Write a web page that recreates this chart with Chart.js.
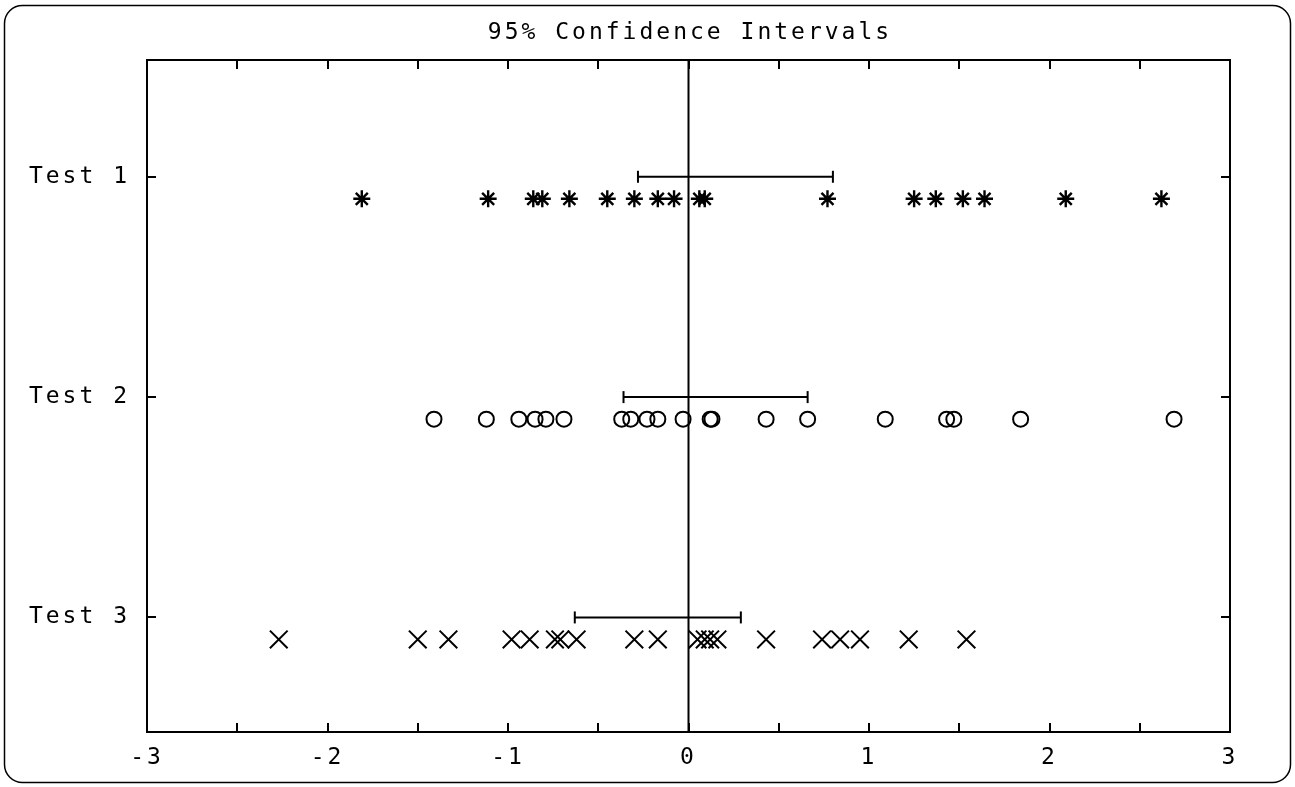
<!DOCTYPE html>
<html>
<head>
<meta charset="utf-8">
<script src="https://cdn.jsdelivr.net/npm/chart.js@4.4.1/dist/chart.umd.min.js"></script>
<style>
  html, body { margin: 0; padding: 0; background: #fff; }
  #wrap { width: 1295px; height: 787px; }
</style>
</head>
<body>
<div id="wrap"><canvas id="ci"></canvas></div>
<script>
// categories and rows
const categories = ['Test 1', 'Test 2', 'Test 3'];
const ciRow = [1, 2, 3];
const pointRow = [1.1, 2.1, 3.1];
const titleText = '95% Confidence Intervals';

// samples
const test1 = [-1.81, -1.11, -0.86, -0.81, -0.66, -0.45, -0.30, -0.17, -0.08, 0.06, 0.09,
    0.77, 1.25, 1.37, 1.52, 1.64, 2.09, 2.62];
const test2 = [-1.41, -1.12, -0.94, -0.85, -0.79, -0.69, -0.37, -0.32, -0.23, -0.17, -0.03,
    0.12, 0.13, 0.43, 0.66, 1.09, 1.43, 1.47, 1.84, 2.69];
const test3 = [-2.27, -1.50, -1.33, -0.98, -0.88, -0.74, -0.71, -0.62, -0.30, -0.17,
    0.05, 0.09, 0.12, 0.16, 0.43, 0.74, 0.84, 0.95, 1.22, 1.54];

// 95% intervals
const ciLow = [-0.28, -0.36, -0.63];
const ciHigh = [0.80, 0.66, 0.29];

// axis ranges
const xMin = -3, xMax = 3, xStep = 0.5;
const yMin = 0.47, yMax = 3.52;

const samples = [test1, test2, test3];
const markers = [
    { style: 'star', radius: 8.5, width: 2.4 },
    { style: 'circle', radius: 7.5, width: 2 },
    { style: 'crossRot', radius: 12.5, width: 2 }
];

const datasets = [];

// zero line
datasets.push({
    data: [{ x: 0, y: yMin }, { x: 0, y: yMax }],
    showLine: true, borderColor: '#000', borderWidth: 2, pointRadius: 0
});

samples.forEach((vals, i) => {
    datasets.push({
        data: vals.map(v => ({ x: v, y: pointRow[i] })),
        showLine: false,
        pointStyle: markers[i].style,
        pointRadius: markers[i].radius,
        pointBorderColor: '#000',
        pointBackgroundColor: 'rgba(0,0,0,0)',
        pointBorderWidth: markers[i].width
    });
    datasets.push({
        data: [{ x: ciLow[i], y: ciRow[i] }, { x: ciHigh[i], y: ciRow[i] }],
        showLine: true,
        borderColor: '#000',
        borderWidth: 2,
        pointStyle: 'line',
        pointRotation: 90,
        pointRadius: 6,
        pointBorderColor: '#000',
        pointBorderWidth: 2
    });
});

const fontFamily = '"DejaVu Sans Mono", monospace';
const monoFont = { family: fontFamily, size: 23 };

// letter spacing (lost on every canvas resize, so set again)
const spacing = {
    id: 'spacing',
    beforeUpdate(chart) { chart.ctx.letterSpacing = '3px'; },
    beforeDraw(chart) { chart.ctx.letterSpacing = '3px'; }
};

// title, box, inward ticks and outer rounded frame
const frame = {
    id: 'frame',
    afterDatasetsDraw(chart) {
        const { ctx, chartArea: a, scales: { x, y } } = chart;
        const tl = 9;
        ctx.save();
        ctx.strokeStyle = '#000';
        ctx.lineWidth = 2;
        ctx.strokeRect(a.left, a.top, a.right - a.left, a.bottom - a.top);
        ctx.beginPath();
        x.ticks.forEach(t => {
            const px = Math.round(x.getPixelForValue(t.value));
            ctx.moveTo(px, a.bottom); ctx.lineTo(px, a.bottom - tl);
            ctx.moveTo(px, a.top); ctx.lineTo(px, a.top + tl);
        });
        y.ticks.forEach(t => {
            const py = Math.round(y.getPixelForValue(t.value));
            ctx.moveTo(a.left, py); ctx.lineTo(a.left + tl, py);
            ctx.moveTo(a.right, py); ctx.lineTo(a.right - tl, py);
        });
        ctx.stroke();

        ctx.lineWidth = 1.5;
        ctx.beginPath();
        ctx.roundRect(4.5, 5.5, 1286, 777, 18);
        ctx.stroke();

        ctx.letterSpacing = '3px';
        ctx.font = '23px ' + fontFamily;
        ctx.fillStyle = '#000';
        ctx.textAlign = 'left';
        ctx.textBaseline = 'middle';
        const w = ctx.measureText(titleText).width - 3;
        ctx.fillText(titleText, (a.left + a.right) / 2 - w / 2, 33);
        ctx.restore();
    }
};

new Chart(document.getElementById('ci'), {
    type: 'scatter',
    data: { datasets },
    options: {
        responsive: true,
        maintainAspectRatio: false,
        animation: false,
        layout: { padding: { left: 0, right: 65, top: 60, bottom: 0 } },
        plugins: {
            legend: { display: false },
            tooltip: { enabled: false },
            title: { display: false }
        },
        scales: {
            x: {
                type: 'linear',
                min: xMin, max: xMax,
                grid: { display: false, drawTicks: false },
                border: { display: false },
                afterFit(scale) { scale.height = 55; },
                ticks: {
                    stepSize: xStep,
                    autoSkip: false,
                    maxRotation: 0,
                    color: '#000',
                    font: monoFont,
                    padding: 12,
                    callback: v => Number.isInteger(v) ? String(v) : ''
                }
            },
            y: {
                type: 'linear',
                min: yMin, max: yMax,
                reverse: true,
                grid: { display: false, drawTicks: false },
                border: { display: false },
                afterFit(scale) { scale.width = 147; },
                afterBuildTicks(scale) { scale.ticks = ciRow.map(v => ({ value: v })); },
                ticks: {
                    color: '#000',
                    font: monoFont,
                    padding: 17,
                    callback: v => categories[ciRow.indexOf(v)]
                }
            }
        }
    },
    plugins: [spacing, frame]
});
</script>
</body>
</html>
